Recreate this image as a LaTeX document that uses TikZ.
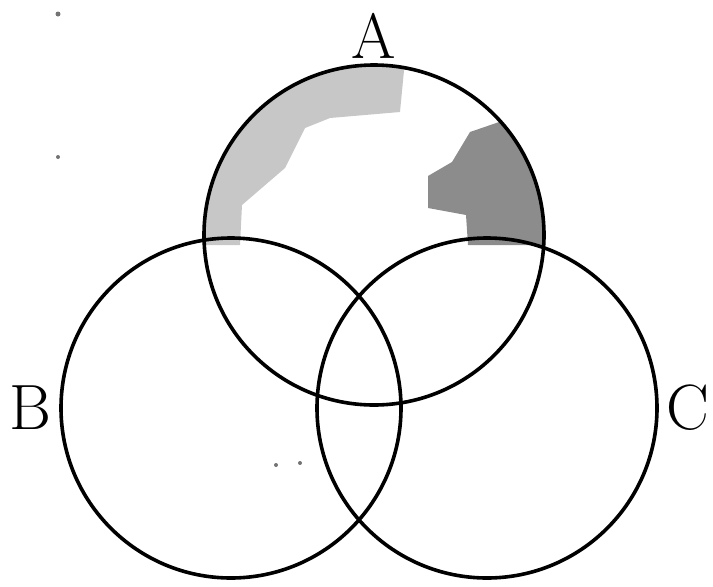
\documentclass[tikz,border=0pt]{standalone}
\usetikzlibrary{positioning}
\begin{document}
\begin{tikzpicture}[
  x=1pt,y=-1pt,
  node distance=7pt,
  set/.style={draw,circle,line width=3.6pt,minimum size=340pt,inner sep=0pt},
  lbl/.style={font=\fontsize{64}{64}\selectfont,inner sep=0pt},
  spot/.style={fill=black!55}
]
\useasboundingbox (0,0) rectangle (713,587);
% shaded parts inside A
\begin{scope}
  \clip (374,235) circle (170);
  \fill[black!22] (200,245) -- (240,245) -- (242,205) -- (285,168) -- (305,128)
    -- (330,118) -- (400,112) -- (405,60) -- (200,60) -- cycle;
  \fill[black!45] (468,245) -- (466,215) -- (428,208) -- (428,176) -- (452,162)
    -- (470,132) -- (505,120) -- (560,150) -- (560,245) -- cycle;
\end{scope}
\node[set] (A) at (374,235) {};
\node[set] (B) at (231,408) {};
\node[set] (C) at (487,408) {};
\node[lbl,above=5pt of A] (la) {A};
\node[lbl,left=8pt of B] (lb) {B};
\node[lbl,right=7pt of C] (lc) {C};
% specks
\fill[spot] (58,14) circle (2.5);
\fill[spot] (58,157) circle (2);
\fill[spot] (276,465) circle (2);
\fill[spot] (300,463) circle (2);
\end{tikzpicture}
\end{document}
